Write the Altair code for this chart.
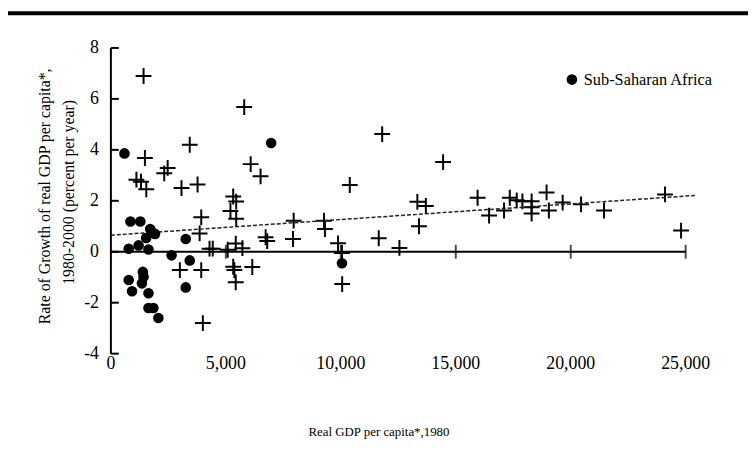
import altair as alt
import pandas as pd

# Sub-Saharan Africa (dots)
ssa_gdp = [590, 850, 1280, 1710, 1920, 1535, 775, 1205, 1635, 2640, 3255, 3430,
           1390, 1420, 775, 1350, 920, 1635, 3255, 1635, 1850, 2065, 6970, 10050]
ssa_growth = [3.86, 1.19, 1.19, 0.89, 0.70, 0.54, 0.12, 0.25, 0.09, -0.14, 0.50, -0.34,
              -0.79, -0.98, -1.11, -1.24, -1.55, -1.63, -1.40, -2.21, -2.21, -2.60, 4.27, -0.45]

# Other countries (crosses)
other_gdp = [1420, 3430, 1480, 2470, 2320, 1110, 1310, 1540, 3070, 3770,
             5800, 6080, 6510, 5320, 5450, 5200, 5450, 3930, 3860, 4290,
             4430, 5080, 5430, 5720, 6730, 6800, 3000, 3930, 5320, 5370,
             6150, 5430, 4000, 7950, 7920, 9270, 9310, 9880, 10050, 10060,
             10390, 11800, 11650, 12550, 13330, 13700, 13400, 14450, 15950, 16450,
             17100, 17350, 17650, 17900, 18300, 18300, 18300, 18950, 19050, 19650,
             20450, 21450, 24100, 24800]
other_growth = [6.90, 4.20, 3.68, 3.29, 3.08, 2.83, 2.75, 2.45, 2.50, 2.64,
                5.68, 3.44, 2.96, 2.17, 1.97, 1.60, 1.30, 1.35, 0.72, 0.12,
                0.12, 0.08, 0.32, 0.14, 0.57, 0.42, -0.72, -0.72, -0.59, -0.72,
                -0.60, -1.20, -2.80, 1.22, 0.50, 1.22, 0.89, 0.33, -0.05, -1.27,
                2.62, 4.62, 0.53, 0.15, 1.96, 1.80, 1.00, 3.52, 2.12, 1.42,
                1.62, 2.12, 2.02, 1.98, 1.98, 1.75, 1.50, 2.33, 1.62, 1.93,
                1.86, 1.62, 2.25, 0.83]

trend_gdp = [0, 25400]
trend_growth = [0.65, 2.21]

x_label_values = [0, 5000, 10000, 15000, 20000, 25000]
x_label_text = ["0", "5,000", "10,000", "15,000", "20,000", "25,000"]
x_tick_values = [5000, 10000, 15000, 20000, 25000]
y_tick_values = [-4, -2, 0, 2, 4, 6, 8]
y_label_text = ["-4", "-2", "0", "2", "4", "6", "8"]
legend_label = "Sub-Saharan Africa"
x_title = "Real GDP per capita*,1980"
y_title_lines = ["Rate of Growth of real GDP per capita*,", "1980-2000 (percent per year)"]

FONT = "Liberation Serif"
W, H = 581, 309
xscale = alt.Scale(domain=[0, 25000], nice=False, zero=False)
yscale = alt.Scale(domain=[-4, 8], nice=False)
cross_path = "M-1,0L1,0M0,-1L0,1"

ssa = pd.DataFrame({"gdp": ssa_gdp, "growth": ssa_growth})
oth = pd.DataFrame({"gdp": other_gdp, "growth": other_growth})
trend = pd.DataFrame({"gdp": trend_gdp, "growth": trend_growth})
xt = pd.DataFrame({"gdp": x_tick_values, "growth": [0] * len(x_tick_values)})
xl = pd.DataFrame({"gdp": x_label_values, "label": x_label_text})
yt = pd.DataFrame({"growth": y_tick_values, "label": y_label_text})
zl = pd.DataFrame({"gdp": [0], "gdp2": [25000], "growth": [0]})
yd = pd.DataFrame({"gdp": [0], "growth": [min(y_tick_values)], "growth2": [max(y_tick_values)]})
one = pd.DataFrame({"label": [legend_label]})
xtt = pd.DataFrame({"label": [x_title]})
yt1 = pd.DataFrame({"label": [y_title_lines[0]]})
yt2 = pd.DataFrame({"label": [y_title_lines[1]]})

X = alt.X("gdp:Q", scale=xscale, axis=None)
Y = alt.Y("growth:Q", scale=yscale, axis=None)

crosses = alt.Chart(oth).mark_point(shape=cross_path, filled=False, strokeWidth=2,
                                    size=256, color="black", opacity=1).encode(x=X, y=Y)
dots = alt.Chart(ssa).mark_point(shape="circle", filled=True, size=115, color="black",
                                 opacity=1).encode(x=X, y=Y)
zero_line = alt.Chart(zl).mark_rule(color="black", strokeWidth=2).encode(
    x=X, x2="gdp2:Q", y=Y)
zero_ticks = alt.Chart(xt).mark_tick(orient="vertical", size=14, thickness=2,
                                     color="black").encode(x=X, y=Y)
y_domain = alt.Chart(yd).mark_rule(color="black", strokeWidth=2).encode(
    x=X, y=Y, y2="growth2:Q")
y_ticks = alt.Chart(yt).mark_rule(color="black", strokeWidth=2).encode(
    y=Y, x=alt.value(0), x2=alt.value(8))
y_labels = alt.Chart(yt).mark_text(align="right", baseline="middle", font=FONT,
                                   fontSize=18, color="black", dx=-12).encode(
    y=Y, x=alt.value(0), text="label:N")
x_labels = alt.Chart(xl).mark_text(align="center", baseline="middle", font=FONT,
                                   fontSize=18, color="black").encode(
    x=X, y=alt.value(H + 11), text="label:N")
x_title_mark = alt.Chart(xtt).mark_text(align="center", baseline="middle", font=FONT,
                                        fontSize=13, color="black").encode(
    x=alt.value(271), y=alt.value(H + 79), text="label:N")
trend_line = alt.Chart(trend).mark_line(strokeDash=[4, 2], strokeWidth=1.5,
                                        color="#222222", clip=False).encode(x=X, y=Y)
leg_dot = alt.Chart(one).mark_point(shape="circle", filled=True, size=115, color="black",
                                    opacity=1).encode(x=alt.value(466), y=alt.value(32))
leg_text = alt.Chart(one).mark_text(align="left", baseline="middle", font=FONT,
                                    fontSize=16.5, color="black").encode(
    x=alt.value(478), y=alt.value(32), text="label:N")
ytitle1 = alt.Chart(yt1).mark_text(align="center", baseline="middle", angle=270, font=FONT,
                                   fontSize=16, color="black").encode(
    x=alt.value(-67), y=alt.value(150), text="label:N")
ytitle2 = alt.Chart(yt2).mark_text(align="center", baseline="middle", angle=270, font=FONT,
                                   fontSize=16, color="black").encode(
    x=alt.value(-42), y=alt.value(146), text="label:N")
top_bar = alt.Chart(one).mark_rule(color="black", strokeWidth=4).encode(
    x=alt.value(-104), x2=alt.value(644), y=alt.value(-35))

chart = alt.layer(crosses, zero_line, zero_ticks, y_domain, y_ticks, y_labels, x_labels,
                  x_title_mark, trend_line, dots, leg_dot, leg_text, ytitle1, ytitle2,
                  top_bar).properties(
    width=W, height=H,
    autosize=alt.AutoSizeParams(type="none"),
    padding={"left": 104, "top": 38, "right": 63, "bottom": 95},
).configure_view(stroke=None)

chart.save("out.html", embed_options={"renderer": "svg", "actions": False})
